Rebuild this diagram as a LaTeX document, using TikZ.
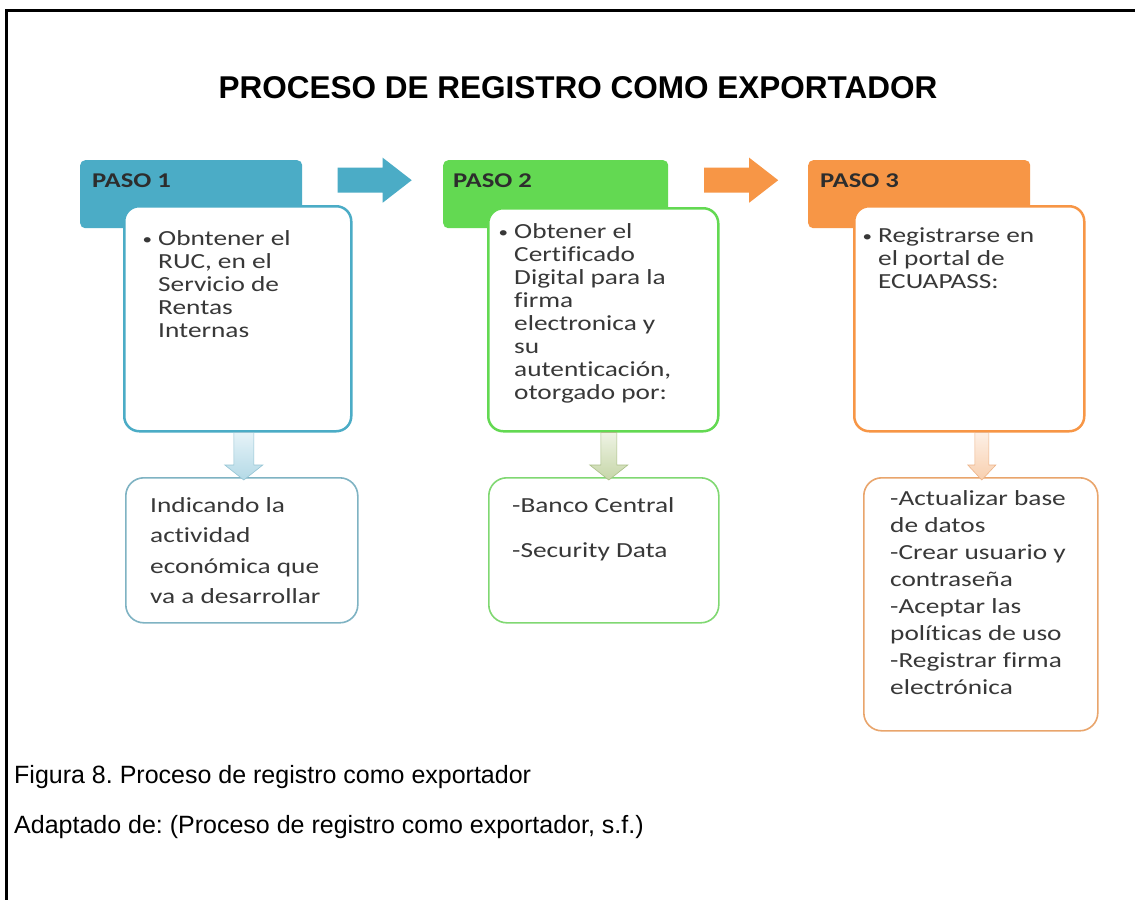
\documentclass[tikz,border=0pt]{standalone}
\usepackage{fontspec}
\setmainfont{Liberation Sans}
\newfontfamily\bxf[FakeStretch=1.27,Ligatures=NoCommon]{Carlito}
\usetikzlibrary{calc}
\frenchspacing
\definecolor{teal1}{HTML}{4BACC6}
\definecolor{green1}{HTML}{63D952}
\definecolor{orange1}{HTML}{F79646}
\definecolor{txt}{HTML}{383838}
\definecolor{tealb}{HTML}{7FB3C3}
\definecolor{greenb}{HTML}{80D872}
\definecolor{orangeb}{HTML}{E9A56C}
\definecolor{arAtop}{HTML}{E6F3F8}
\definecolor{arAbot}{HTML}{B3D9E6}
\definecolor{arAd}{HTML}{94C4D4}
\definecolor{arBtop}{HTML}{EEF3E4}
\definecolor{arBbot}{HTML}{C6D6A8}
\definecolor{arBd}{HTML}{A9BF86}
\definecolor{arCtop}{HTML}{FDF0E6}
\definecolor{arCbot}{HTML}{F8CFAE}
\definecolor{arCd}{HTML}{EDB488}
\newcommand\vl[2]{\vtop{\baselineskip=#1\relax\lineskiplimit=-100pt\lineskip=0pt #2}}
\newcommand\bul{\llap{\raisebox{1pt}{\fontsize{15}{15}\selectfont•}\kern6pt}}
\begin{document}
\begin{tikzpicture}[x=1pt,y=-1pt,
  hdr/.style={rounded corners=5pt, minimum width=#1, minimum height=68pt, anchor=north west, inner sep=0pt},
  cbox/.style={draw=#1, line width=2.5pt, fill=white, rounded corners=15pt, anchor=north west, inner sep=0pt},
  bbox/.style={draw=#1, line width=1.6pt, fill=white, rounded corners=18pt, anchor=north west, inner sep=0pt},
  txtn/.style={anchor=base west, inner sep=0pt, text=txt, font=\bxf\fontsize{21.5}{23}\selectfont},
  hdrtxt/.style={anchor=base west, inner sep=0pt, text=txt!80!black, font=\bxf\bfseries\fontsize{21}{23}\selectfont},
  caption/.style={anchor=base west, inner sep=0pt, font=\fontsize{25}{28}\selectfont}]
\useasboundingbox (0,0) rectangle (1135,900);
\fill[white] (0,0) rectangle (1135,900);
\draw[line width=3pt] (1135,10) -- (6,10) -- (6,900);

\node[anchor=base, inner sep=0pt, font=\bfseries\fontsize{31.5}{36}\selectfont] (title) at (578,98) {PROCESO DE REGISTRO COMO EXPORTADOR};

% headers
\node[hdr=222pt, fill=teal1] (h1) at (80,160) {};
\node[hdr=225pt, fill=green1] (h2) at (443,160) {};
\node[hdr=222pt, fill=orange1] (h3) at (808,160) {};
\node[hdrtxt] (p1) at (92,187) {PASO 1};
\node[hdrtxt] (p2) at (453,187) {PASO 2};
\node[hdrtxt] (p3) at (820,187) {PASO 3};

% right arrows
\coordinate (m1) at ($(h1.east)!0.5!(h2.west)+(2,-14)$);
\coordinate (m2) at ($(h2.east)!0.5!(h3.west)+(3,-14)$);
\foreach \m/\c in {m1/teal1, m2/orange1}{
  \fill[\c] ($(\m)+(-37,-12.5)$) -- ($(\m)+(8,-12.5)$) -- ($(\m)+(8,-22.5)$) -- ($(\m)+(37,0)$)
    -- ($(\m)+(8,22.5)$) -- ($(\m)+(8,12.5)$) -- ($(\m)+(-37,12.5)$) -- cycle;
}

% content boxes
\node[cbox=teal1, minimum width=227pt, minimum height=225pt] (c1) at (123,205) {};
\node[cbox=green1, minimum width=230pt, minimum height=223pt] (c2) at (487,207) {};
\node[cbox=orange1, minimum width=230pt, minimum height=225pt] (c3) at (853,205) {};

\node[txtn] (t1) at (158,245) {\vl{23pt}{\hbox{\bul Obntener el}\hbox{RUC, en el}\hbox{Servicio de}\hbox{Rentas}\hbox{Internas}}};
\node[txtn] (t2) at (514,238) {\vl{23pt}{\hbox{\bul Obtener el}\hbox{Certificado}\hbox{Digital para la}\hbox{firma}\hbox{electronica y}\hbox{su}\hbox{autenticación,}\hbox{otorgado por:}}};
\node[txtn] (t3) at (878,242) {\vl{23pt}{\hbox{\bul Registrarse en}\hbox{el portal de}\hbox{ECUAPASS:}}};

% bottom boxes
\node[bbox=tealb, minimum width=232pt, minimum height=145pt] (b1) at (125,477) {};
\node[bbox=greenb, minimum width=230pt, minimum height=145pt] (b2) at (488,477) {};
\node[bbox=orangeb, minimum width=234pt, minimum height=253pt] (b3) at (863,477) {};

\node[txtn] (u1) at (150,512) {\vl{30.5pt}{\hbox{Indicando la}\hbox{actividad}\hbox{económica que}\hbox{va a desarrollar}}};
\node[txtn] (u2) at (512,512) {\vl{45pt}{\hbox{-Banco Central}\hbox{-Security Data}}};
\node[txtn] (u3) at (890,505) {\vl{27.1pt}{\hbox{-Actualizar base}\hbox{de datos}\hbox{-Crear usuario y}\hbox{contraseña}\hbox{-Aceptar las}\hbox{políticas de uso}\hbox{-Registrar firma}\hbox{electrónica}}};

% down arrows
\foreach \a/\b/\dx/\sw/\hw/\ct/\cb/\cd in {c1/b1/2/10/19/arAtop/arAbot/arAd, c2/b2/5/8/19/arBtop/arBbot/arBd, c3/b3/1/7/14/arCtop/arCbot/arCd}{
  \coordinate (s) at ($(\b.north |- \a.south)+(\dx,0)$);
  \coordinate (e) at ($(\b.north)+(\dx,3)$);
  \shade[top color=\ct, bottom color=\cb, draw=\cd, line width=0.6pt]
    ($(s)+(-\sw,0)$) -- ($(s)+(\sw,0)$) -- ($(e)+(\sw,-15)$) -- ($(e)+(\hw,-15)$) -- (e)
    -- ($(e)+(-\hw,-15)$) -- ($(e)+(-\sw,-15)$) -- cycle;
}

\node[caption] (cap1) at (14,783) {Figura 8. Proceso de registro como exportador};
\node[caption] (cap2) at (14,833) {Adaptado de: (Proceso de registro como exportador, s.f.)};
\end{tikzpicture}
\end{document}
